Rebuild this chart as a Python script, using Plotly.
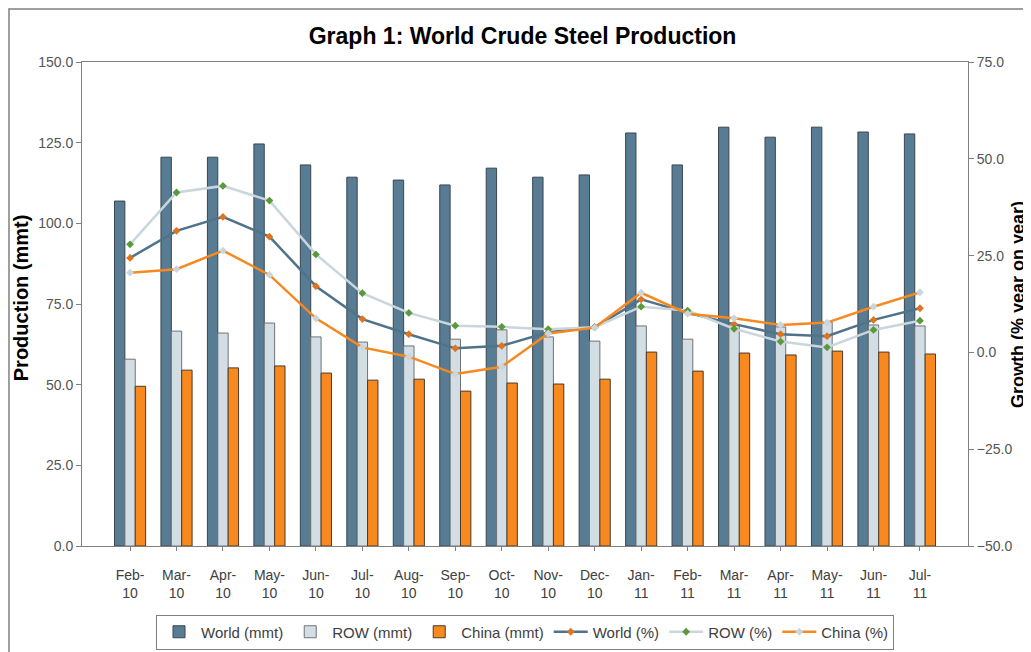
import plotly.graph_objects as go

months = ["Feb-<br>10", "Mar-<br>10", "Apr-<br>10", "May-<br>10", "Jun-<br>10", "Jul-<br>10",
          "Aug-<br>10", "Sep-<br>10", "Oct-<br>10", "Nov-<br>10", "Dec-<br>10", "Jan-<br>11",
          "Feb-<br>11", "Mar-<br>11", "Apr-<br>11", "May-<br>11", "Jun-<br>11", "Jul-<br>11"]

world_mmt = [106.9, 120.5, 120.5, 124.6, 118.1, 114.3, 113.4, 111.9, 117.1, 114.3, 115.0, 128.0,
             118.1, 129.8, 126.7, 129.8, 128.3, 127.7]
row_mmt = [57.9, 66.6, 66.0, 69.1, 64.8, 63.2, 62.0, 64.1, 67.0, 64.8, 63.5, 68.2,
           64.1, 68.5, 67.9, 69.4, 68.5, 68.2]
china_mmt = [49.5, 54.5, 55.2, 55.8, 53.6, 51.4, 51.7, 48.0, 50.5, 50.2, 51.7, 60.1,
             54.2, 59.8, 59.2, 60.4, 60.1, 59.5]

world_pct = [24.4, 31.4, 35.0, 29.9, 17.1, 8.6, 4.7, 1.05, 1.7, 5.2, 6.5, 13.7,
             10.2, 7.3, 4.7, 4.2, 8.4, 11.4]
row_pct = [27.9, 41.3, 43.0, 39.2, 25.3, 15.3, 10.2, 6.9, 6.6, 6.0, 6.5, 11.8,
           10.8, 6.1, 2.8, 1.3, 5.8, 8.2]
china_pct = [20.6, 21.5, 26.3, 20.0, 8.8, 1.3, -1.1, -5.6, -3.7, 4.9, 6.4, 15.4,
             10.0, 8.8, 7.1, 7.7, 11.8, 15.5]

left_ticks = [0, 25, 50, 75, 100, 125, 150]
right_ticks = [-50, -25, 0, 25, 50, 75]

FONT = "Liberation Sans, Arial, sans-serif"

fig = go.Figure()
fig.add_trace(go.Bar(x=months, y=world_mmt, name="World (mmt)",
                     marker=dict(color="#587c93", line=dict(color="#3a4650", width=1))))
fig.add_trace(go.Bar(x=months, y=row_mmt, name="ROW (mmt)",
                     marker=dict(color="#d3dde4", line=dict(color="#6e7478", width=1))))
fig.add_trace(go.Bar(x=months, y=china_mmt, name="China (mmt)",
                     marker=dict(color="#f7891f", line=dict(color="#4a3a2a", width=1))))

fig.add_trace(go.Scatter(x=months, y=world_pct, name="World (%)", yaxis="y2", mode="lines+markers",
                         line=dict(color="#4f7389", width=2.5),
                         marker=dict(symbol="diamond", size=6, color="#e0741c")))
fig.add_trace(go.Scatter(x=months, y=row_pct, name="ROW (%)", yaxis="y2", mode="lines+markers",
                         line=dict(color="#c9d6de", width=2.5),
                         marker=dict(symbol="diamond", size=6, color="#5a9a3a")))
fig.add_trace(go.Scatter(x=months, y=china_pct, name="China (%)", yaxis="y2", mode="lines+markers",
                         line=dict(color="#f7891f", width=2.5),
                         marker=dict(symbol="diamond", size=6, color="#c9d6de")))

# page body adds an 8px offset; figure sized so the plot area lands at x 82-968, y 62-546 on screen
fig.update_layout(
    width=1023, height=644,
    margin=dict(l=74, r=63, t=54, b=106, autoexpand=False),
    paper_bgcolor="white", plot_bgcolor="white",
    font=dict(family=FONT, size=14, color="#404040"),
    title=dict(text="<b>Graph 1: World Crude Steel Production</b>", x=0.503, xanchor="center",
               y=0.9565, yanchor="middle", font=dict(size=23, color="black", family=FONT)),
    barmode="group", bargap=0.33, bargroupgap=0,
    xaxis=dict(showline=True, linecolor="#808080", linewidth=1, mirror=True, automargin=False,
               ticks="outside", ticklen=4, tickcolor="#808080", ticklabelstandoff=12,
               tickfont=dict(size=14, color="#404040"), showgrid=False),
    yaxis=dict(range=[0, 150], tickvals=left_ticks, tickformat=".1f", automargin=False,
               showline=True, linecolor="#808080", linewidth=1,
               ticks="outside", ticklen=5, tickcolor="#808080", showgrid=False, zeroline=False,
               tickfont=dict(size=14, color="#555555")),
    yaxis2=dict(range=[-50, 75], tickvals=right_ticks, tickformat=".1f", overlaying="y", side="right",
                automargin=False,
                showline=True, linecolor="#808080", linewidth=1,
                ticks="outside", ticklen=5, tickcolor="#808080", showgrid=False, zeroline=False,
                tickfont=dict(size=14, color="#555555")),
    legend=dict(orientation="h", x=0.5, xanchor="center", y=-0.1777, yanchor="middle",
                bordercolor="#808080", borderwidth=1, font=dict(size=15, color="#404040"),
                itemwidth=34, tracegroupgap=0),
    annotations=[
        dict(text="<b>Production (mmt)</b>", textangle=-90, xref="paper", yref="paper",
             x=-0.0688, y=0.512, xanchor="center", yanchor="middle", showarrow=False,
             font=dict(size=20, color="black", family=FONT)),
        dict(text="<b>Growth (% year on year)</b>", textangle=-90, xref="paper", yref="paper",
             x=1.0565, y=0.498, xanchor="center", yanchor="middle", showarrow=False,
             font=dict(size=18, color="black", family=FONT)),
    ],
    shapes=[dict(type="rect", xref="paper", yref="paper", x0=-0.0824, x1=1.1, y0=-0.3, y1=1.1095,
                 line=dict(color="#808080", width=1.5))],
)

fig.write_html("out.html")
